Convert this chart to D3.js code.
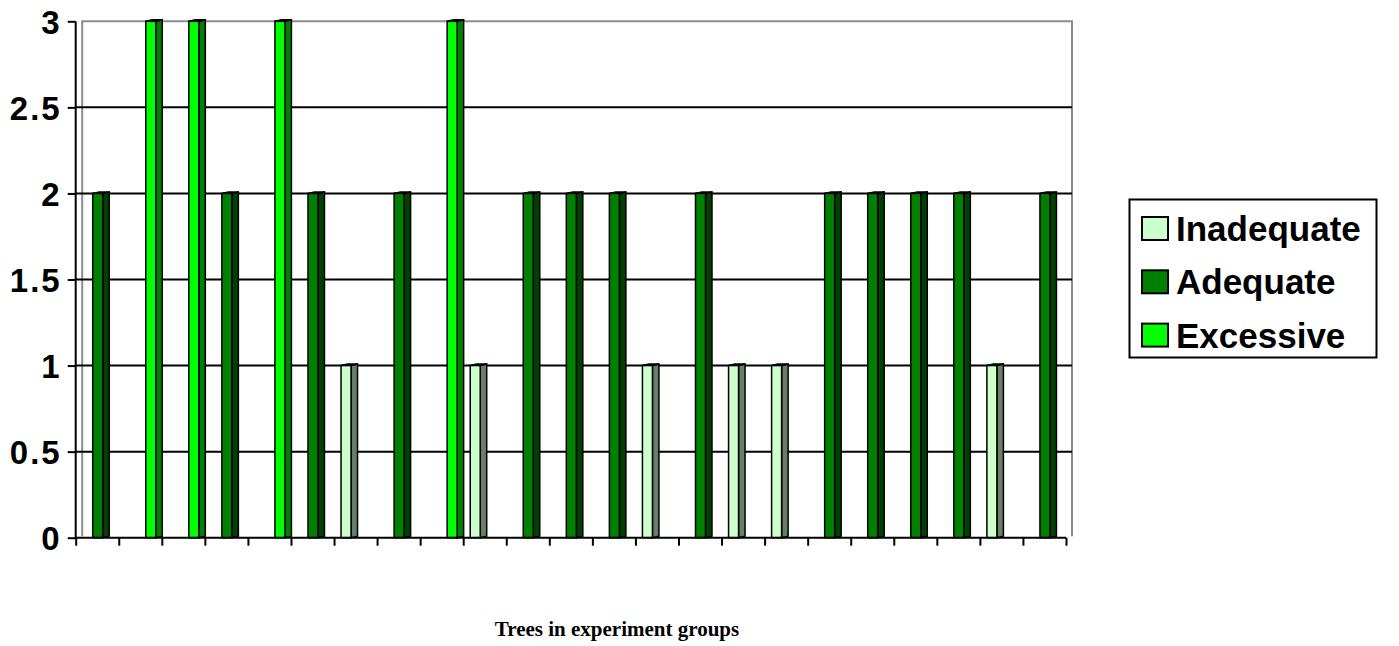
<!DOCTYPE html>
<html>
<head>
<meta charset="utf-8">
<script src="https://cdn.jsdelivr.net/npm/d3@7"></script>
<style>
  html, body { margin: 0; padding: 0; background: #fff; }
  svg { display: block; }
</style>
</head>
<body>
<svg id="chart" width="1399" height="646"></svg>
<script>
// Trees in the experiment groups (one column per tree)
const categories = ["T1","T2","T3","T4","T5","T6","T7","T8","T9","T10","T11","T12",
                    "T13","T14","T15","T16","T17","T18","T19","T20","T21","T22","T23"];

// Scores per series
const inadequate = [0,0,0,0,0,0,1,0,0,1,0,0,0,1,0,1,1,0,0,0,0,1,0];
const adequate   = [2,0,0,2,0,2,0,2,0,0,2,2,2,0,2,0,0,2,2,2,2,0,2];
const excessive  = [0,3,3,0,3,0,0,0,3,0,0,0,0,0,0,0,0,0,0,0,0,0,0];

const seriesNames = ["Inadequate", "Adequate", "Excessive"];
const yTicks = [0, 0.5, 1, 1.5, 2, 2.5, 3];

const seriesValues = { Inadequate: inadequate, Adequate: adequate, Excessive: excessive };
const frontColor = { Inadequate: "#ccffcc", Adequate: "#008000", Excessive: "#00ff00" };
const sideColor  = { Inadequate: "#667f66", Adequate: "#004000", Excessive: "#008000" };

const svg = d3.select("#chart");

const plotLeft = 75.7, plotRight = 1066, wallRight = 1072, plotTop = 21.3, plotBottom = 537.7;
const depthX = 6.5, depthY = 1.5;

const y = d3.scaleLinear().domain([0, 3]).range([plotBottom, plotTop]);
const x = d3.scaleBand().domain(categories).range([plotLeft, plotRight]).paddingInner(0).paddingOuter(0);
const xs = d3.scaleBand().domain(seriesNames).range([7, 37]);
const xTickScale = d3.scaleLinear().domain([0, categories.length]).range([plotLeft, plotRight]);

// back wall edges
svg.append("path")
  .attr("d", `M${plotLeft + depthX},${plotBottom - depthY}V${plotTop}H${wallRight}V${plotBottom - depthY}`)
  .attr("stroke", "#8c8c8c").attr("stroke-width", 2).attr("fill", "none");

// gridlines
svg.append("g")
  .selectAll("line")
  .data(yTicks.filter(t => t > 0 && t < 3))
  .join("line")
  .attr("x1", plotLeft).attr("x2", wallRight)
  .attr("y1", d => y(d)).attr("y2", d => y(d))
  .attr("stroke", "#000").attr("stroke-width", 2);

// columns
const bars = [];
seriesNames.forEach(s => {
  seriesValues[s].forEach((v, i) => {
    if (v > 0) bars.push({ s, v, c: categories[i] });
  });
});

const barG = svg.append("g").attr("stroke", "#000").attr("stroke-width", 1.5);
bars.forEach(b => {
  const x0 = x(b.c) + xs(b.s);
  const w = xs.bandwidth();
  const yt = y(b.v), yb = y(0);
  // side face
  barG.append("path")
    .attr("d", `M${x0 + w},${yt}L${x0 + w + depthX},${yt - depthY}V${yb - depthY}L${x0 + w},${yb}Z`)
    .attr("fill", sideColor[b.s]);
  // top face
  barG.append("path")
    .attr("d", `M${x0},${yt}L${x0 + depthX},${yt - depthY}H${x0 + w + depthX}L${x0 + w},${yt}Z`)
    .attr("fill", sideColor[b.s]);
  // front face
  barG.append("rect")
    .attr("x", x0).attr("y", yt).attr("width", w).attr("height", yb - yt)
    .attr("fill", frontColor[b.s]);
});

// y axis
const yAxis = svg.append("g")
  .attr("transform", `translate(${plotLeft},0)`)
  .call(d3.axisLeft(y).tickValues(yTicks).tickSize(8).tickPadding(6).tickFormat(d3.format("")));
yAxis.select(".domain").attr("stroke", "#000").attr("stroke-width", 2).attr("d", `M0,${plotTop}V${plotBottom}`);
yAxis.selectAll(".tick line").attr("stroke", "#000").attr("stroke-width", 2);
yAxis.selectAll(".tick text")
  .attr("fill", "#000")
  .style("font-family", "'Liberation Sans', Arial, sans-serif")
  .style("font-weight", "bold")
  .style("font-size", "33px")
  .style("letter-spacing", "2px")
  .attr("dy", "0.36em");

// x axis
const xAxis = svg.append("g")
  .attr("transform", `translate(0,${plotBottom})`)
  .call(d3.axisBottom(xTickScale).tickValues(d3.range(categories.length + 1)).tickSize(8).tickFormat(""));
xAxis.select(".domain").attr("stroke", "#000").attr("stroke-width", 2).attr("d", `M${plotLeft},0H${plotRight}`);
xAxis.selectAll(".tick line").attr("stroke", "#000").attr("stroke-width", 2);

// axis title
svg.append("text")
  .attr("x", 617).attr("y", 636)
  .attr("text-anchor", "middle")
  .style("font-family", "'Liberation Serif', 'Times New Roman', serif")
  .style("font-weight", "bold")
  .style("font-size", "21px")
  .text("Trees in experiment groups");

// legend
const legend = svg.append("g");
legend.append("rect")
  .attr("x", 1129.5).attr("y", 199.5).attr("width", 247).attr("height", 158)
  .attr("fill", "#fff").attr("stroke", "#000").attr("stroke-width", 2);
const item = legend.selectAll("g.item").data(seriesNames).join("g")
  .attr("class", "item")
  .attr("transform", (d, i) => `translate(1142,${217 + i * 53.3})`);
item.append("rect")
  .attr("width", 26).attr("height", 23)
  .attr("fill", d => frontColor[d]).attr("stroke", "#000").attr("stroke-width", 2);
item.append("text")
  .attr("x", 34).attr("y", 24)
  .style("font-family", "'Liberation Sans', Arial, sans-serif")
  .style("font-weight", "bold")
  .style("font-size", "35px")
  .text(d => d);
</script>
</body>
</html>
